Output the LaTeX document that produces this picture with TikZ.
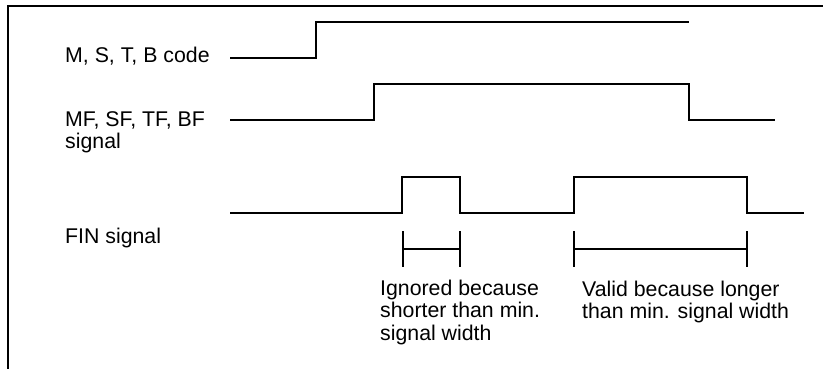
\documentclass[tikz,border=0pt]{standalone}
\usepackage{fontspec}
\setmainfont{Liberation Sans}
\begin{document}
\begin{tikzpicture}[x=1pt,y=-1pt,
  sig/.style={line width=2pt,line join=miter,line cap=butt},
  frame/.style={line width=2pt},
  meas/.style={line width=1.6pt},
  lbl/.style={inner sep=0pt,anchor=base west,align=left,font=\fontsize{21.3}{22.7}\selectfont}]
\useasboundingbox (0,0) rectangle (823,369);
% frame
\draw[frame] (8,369) -- (8,6) -- (823,6);
% labels (base anchor = baseline of last line)
\node[lbl] (l1) at (65,63) {M, S, T, B code};
\node[lbl] (l2) at (65,148.7) {MF, SF, TF, BF\\signal};
\node[lbl] (l3) at (65,243) {FIN signal};
% M,S,T,B code
\draw[sig] (230,58) -- (316,58) -- (316,22) -- (689,22);
% MF,SF,TF,BF
\draw[sig] (230,120) -- (374,120) -- (374,84) -- (689,84) -- (689,120) -- (775,120);
% FIN
\draw[sig] (230,213) -- (402,213) -- (402,177) -- (460,177) -- (460,213) -- (574,213) -- (574,177) -- (747,177) -- (747,213) -- (804,213);
% measures
\coordinate (a1) at (403,249); \coordinate (a2) at (460,249);
\coordinate (b1) at (574,249); \coordinate (b2) at (747,249);
\draw[meas] (403,231) -- (403,267);
\draw[meas] (460,231) -- (460,267);
\draw[meas] (a1) -- (a2);
\draw[meas] (574,231) -- (574,267);
\draw[meas] (747,231) -- (747,267);
\draw[meas] (b1) -- (b2);
% notes
\node[lbl] (n1) at (380,340.4) {Ignored because\\shorter than min.\\signal width};
\node[lbl] (n2) at (582,318.7) {Valid because longer\\than min. signal width};
\end{tikzpicture}
\end{document}
